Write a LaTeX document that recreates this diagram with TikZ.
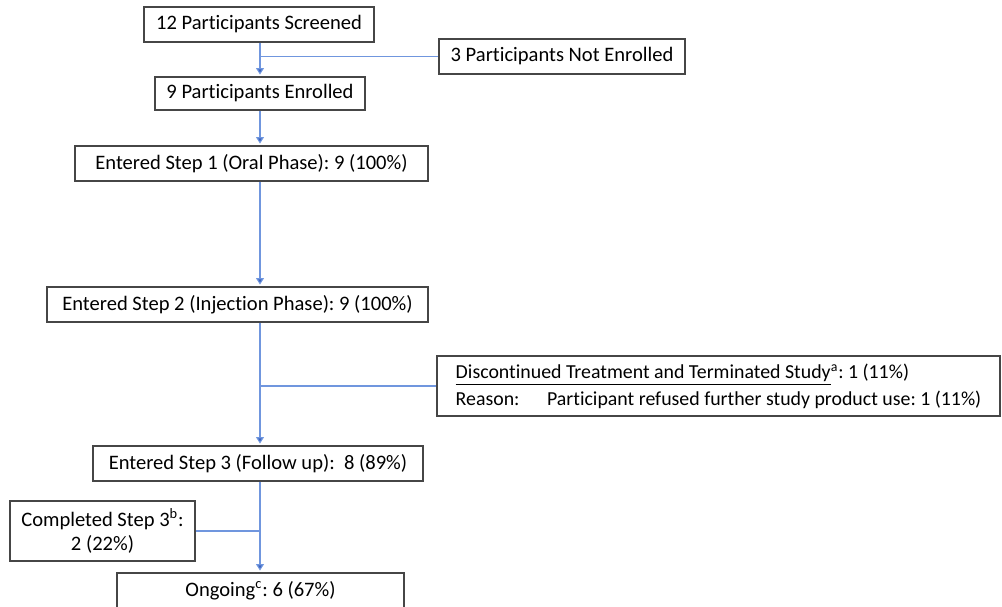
\documentclass[tikz,border=0pt]{standalone}
\usepackage{fontspec}
\setmainfont[RawFeature=-liga]{Carlito}
\usepackage{tikz}
\usetikzlibrary{arrows.meta,positioning,calc}
\definecolor{flowBlue}{RGB}{112,150,222}
\definecolor{tipBlue}{RGB}{60,100,190}
\definecolor{boxGray}{RGB}{70,70,70}
\tikzset{
  stagebox/.style={draw=boxGray, line width=0.8pt, fill=white, inner sep=2pt,
    font=\fontsize{11.7}{14}\selectfont, align=center},
  flowln/.style={-{Triangle[length=3.6pt,width=4.4pt,fill=tipBlue]}, line width=0.6pt,
    draw=flowBlue, shorten >=1pt},
  branchln/.style={line width=0.6pt, draw=flowBlue},
}

\begin{document}
\frenchspacing
\begin{tikzpicture}[x=0.02cm, y=-0.02cm]
    \useasboundingbox (0,0) rectangle (1002,606);
    \coordinate (spine) at (260,0);
    % stages
    \node[stagebox, minimum width=4.6cm, minimum height=0.70cm] (screened) at (259,24.5) {12 Participants Screened};
    \node[stagebox, minimum width=4.92cm, minimum height=0.70cm] (notenr) at (562,56.5) {3 Participants Not Enrolled};
    \node[stagebox, minimum width=4.2cm, minimum height=0.66cm] (enrolled) at (260,93.5) {9 Participants Enrolled};
    \node[stagebox, minimum width=7.06cm, minimum height=0.70cm] (step1) at (251.5,163.5) {Entered Step 1 (Oral Phase): 9 (100\%)};
    \node[stagebox, minimum width=7.62cm, minimum height=0.70cm] (step2) at (237.5,304.5) {Entered Step 2 (Injection Phase): 9 (100\%)};
    \node[stagebox, minimum width=11.26cm, minimum height=1.2cm, align=left, font=\fontsize{11.3}{14}\selectfont] (disc) at (718.5,386)
      {\underline{Discontinued Treatment and Terminated Study}\textsuperscript{a}: 1 (11\%)\\[1.3pt]
       \makebox[52pt][l]{Reason:}Participant refused further study product use: 1 (11\%)};
    \node[stagebox, minimum width=6.6cm, minimum height=0.70cm] (step3) at (258,463.5) {Entered Step 3 (Follow up):~ 8 (89\%)};
    \node[stagebox, minimum width=3.7cm, minimum height=1.20cm] (completed) at (102.5,531) {Completed Step 3\textsuperscript{b}:\\2 (22\%)};
    \node[stagebox, minimum width=5.74cm, minimum height=0.70cm] (ongoing) at (260.5,590.5) {Ongoing\textsuperscript{c}: 6 (67\%)};
    % main flow
    \draw[flowln] (screened.south -| spine) -- (enrolled.north -| spine);
    \draw[flowln] (enrolled.south -| spine) -- (step1.north -| spine);
    \draw[flowln] (step1.south -| spine) -- (step2.north -| spine);
    \draw[flowln] (step2.south -| spine) -- (step3.north -| spine);
    \draw[flowln] (step3.south -| spine) -- (ongoing.north -| spine);
    % side branches
    \draw[branchln] (spine |- notenr.west) -- (notenr.west);
    \draw[branchln] (spine |- disc.west) -- (disc.west);
    \draw[branchln] (completed.east) -- (spine |- completed.east);
\end{tikzpicture}
\end{document}
